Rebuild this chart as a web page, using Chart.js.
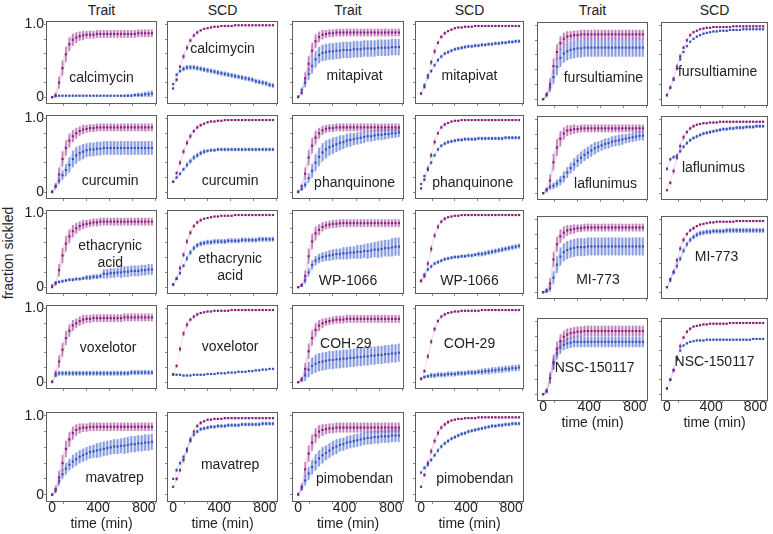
<!DOCTYPE html>
<html>
<head>
<meta charset="utf-8">
<title>fraction sickled</title>
<script src="https://cdn.jsdelivr.net/npm/chart.js@4.4.1/dist/chart.umd.min.js"></script>
<style>
  body { margin: 0; background: #fff; }
  #fig { position: relative; width: 773px; height: 534px; overflow: hidden;
         font-family: "Liberation Sans", Arial, Helvetica, sans-serif; color: #222; }
  #fig canvas { position: absolute; }
  .txt { position: absolute; font-size: 14px; line-height: 17px; white-space: nowrap;
         text-align: center; transform: translate(-50%, -50%); }
  .rot { transform: translate(-50%, -50%) rotate(-90deg); }
</style>
</head>
<body>
<div id="fig"></div>
<script>
// time points (min)
const times = [0,30,60,90,120,150,180,210,240,270,300,330,360,390,420,450,480,510,540,570,600,630,660,690,720,750,780,810,840,870];

const xTicks = [0,200,400,600,800];
const xTickLabels = ['0','','400','','800'];
const yTicks = [0,0.2,0.4,0.6,0.8,1.0];
const yTickLabels = ['0','','','','','1.0'];

const columnTitles = ['Trait','SCD','Trait','SCD','Trait','SCD'];
const drugs = ['calcimycin','curcumin','ethacrynic\nacid','voxelotor','mavatrep',
               'mitapivat','phanquinone','WP-1066','COH-29','pimobendan',
               'fursultiamine','laflunimus','MI-773','NSC-150117'];

// % sickled, one row per drug (same order as drugs)
// purple = untreated, blue = treated
const traitPurple = [
  [0,3,20,40,59,73,79,82,84,85,86,86,86,87,87,87,87,87,87,87,87,87,87,87,87,88,88,88,88,88],
  [0,8,24,45,60,70,76,80,83,85,86,87,87,88,88,88,88,88,88,88,88,88,88,88,88,88,88,88,88,88],
  [0,5,23,43,59,69,76,80,83,85,86,87,88,88,89,89,89,89,89,89,89,89,89,89,89,89,89,89,89,89],
  [0,12,28,44,60,70,77,80,83,85,86,86,87,87,87,87,87,87,87,87,87,88,88,88,88,88,88,88,88,88],
  [0,7,22,40,58,70,78,82,84,85,85,86,86,86,86,86,86,86,86,86,86,86,86,86,86,86,86,86,86,86],
  [0,6,26,46,64,77,83,86,87,88,88,89,89,89,89,89,89,89,89,89,89,89,89,89,89,89,89,89,89,89],
  [0,8,25,47,63,74,80,84,86,87,87,88,88,88,88,88,88,88,88,88,88,88,88,88,88,88,88,88,88,88],
  [0,3,15,42,62,73,78,82,84,85,86,86,87,87,87,87,87,87,87,87,87,87,87,87,87,87,87,87,87,87],
  [0,4,18,42,60,71,77,80,82,83,84,85,85,85,86,86,86,86,86,86,86,86,86,86,86,86,86,86,86,86],
  [0,10,32,52,66,75,80,82,83,84,84,85,85,85,85,85,85,85,85,85,85,85,85,85,85,85,85,85,85,85],
  [0,6,20,45,64,76,82,85,86,87,87,88,88,88,88,88,88,88,88,88,88,88,88,88,88,88,88,88,88,88],
  [0,4,17,42,62,74,81,85,86,87,87,88,88,88,88,88,88,88,88,88,88,88,88,88,88,88,88,88,88,88],
  [0,3,12,45,66,77,82,85,86,87,88,88,89,89,89,89,89,89,89,89,89,89,89,89,89,89,89,89,89,89],
  [0,4,22,44,62,73,79,82,84,85,86,86,87,87,87,87,87,87,87,87,87,87,87,87,87,87,87,87,87,87]
];
const traitPurpleErr = [
  [1,3,8,10,10,9,8,7,6,6,5,5,5,5,5,5,5,5,5,5,5,5,5,5,5,5,5,5,5,5],
  [1,4,9,10,10,9,8,7,6,6,5,5,5,5,5,5,5,5,5,5,5,5,5,5,5,5,5,5,5,5],
  [1,3,8,10,10,9,8,7,6,6,5,5,5,5,5,5,5,5,5,5,5,5,5,5,5,5,5,5,5,5],
  [1,4,8,9,9,8,7,6,6,6,5,5,5,5,5,5,5,5,5,5,5,5,5,5,5,5,5,5,5,5],
  [1,4,8,10,10,9,8,7,6,5,5,5,5,5,5,5,5,5,5,5,5,5,5,5,5,5,5,5,5,5],
  [1,3,8,10,10,9,7,6,5,5,5,5,5,5,5,5,5,5,5,5,5,5,5,5,5,5,5,5,5,5],
  [1,3,8,10,10,9,7,6,5,5,5,5,5,5,5,5,5,5,5,5,5,5,5,5,5,5,5,5,5,5],
  [1,2,7,10,10,9,7,6,5,5,5,5,5,5,5,5,5,5,5,5,5,5,5,5,5,5,5,5,5,5],
  [1,3,8,10,10,9,7,6,5,5,5,5,5,5,5,5,5,5,5,5,5,5,5,5,5,5,5,5,5,5],
  [1,4,9,10,10,9,8,7,6,6,6,6,6,6,6,6,6,6,6,6,6,6,6,6,6,6,6,6,6,6],
  [1,3,8,10,10,9,8,7,6,6,6,6,6,6,6,6,6,6,6,6,6,6,6,6,6,6,6,6,6,6],
  [1,3,8,11,11,10,8,7,6,6,5,5,5,5,5,5,5,5,5,5,5,5,5,5,5,5,5,5,5,5],
  [1,2,7,10,10,9,8,7,6,6,5,5,5,5,5,5,5,5,5,5,5,5,5,5,5,5,5,5,5,5],
  [1,3,8,10,10,9,8,8,7,7,7,7,7,7,7,7,7,7,7,7,7,7,7,7,7,7,7,7,7,7]
];
const traitBlue = [
  [0,1,2,2,2,2,2,2,2,2,2,2,2,2,2,2,2,2,2,2,2,2,2,2,3,3,3,4,4,5],
  [1,8,15,23,30,37,45,50,53,55,57,58,58,59,59,60,60,60,60,60,60,60,60,60,60,60,60,60,60,60],
  [2,6,7,8,9,10,10,11,11,12,13,13,14,14,15,18,18,19,19,20,20,21,21,22,22,22,23,23,24,24],
  [1,9,12,12,12,12,12,12,12,12,12,12,12,12,12,12,12,12,12,12,12,12,12,13,13,13,13,13,13,13],
  [0,5,17,26,33,38,42,45,48,50,52,54,55,56,57,58,59,60,61,61,62,62,63,64,64,65,65,66,66,67],
  [1,10,20,32,43,52,58,61,62,63,63,64,64,65,65,65,66,66,66,67,67,67,67,68,68,68,68,69,69,69],
  [1,4,10,19,29,40,48,54,58,61,63,65,67,68,70,71,72,73,74,75,76,76,77,78,78,79,79,80,80,81],
  [0,2,9,20,30,36,39,41,42,43,44,45,45,46,46,47,47,48,48,49,49,50,51,51,52,53,53,54,55,55],
  [0,3,9,17,22,25,27,28,29,30,30,31,31,32,32,33,33,34,34,35,35,36,36,37,37,38,38,39,39,40],
  [1,8,18,27,35,41,46,50,53,56,59,61,63,64,66,67,68,69,70,71,72,72,73,73,74,74,74,75,75,75],
  [0,6,16,30,44,56,62,65,67,68,69,69,70,70,70,70,70,70,70,70,70,70,70,70,70,70,70,70,70,70],
  [0,5,8,10,13,17,22,28,34,39,44,48,52,55,58,61,63,65,67,68,70,71,72,73,74,75,76,77,78,78],
  [0,1,5,20,38,49,55,58,60,61,62,62,62,63,63,63,63,63,63,63,63,63,63,63,63,63,63,63,63,63],
  [0,5,22,42,56,64,68,70,71,72,72,72,72,72,72,72,72,72,72,72,72,72,72,72,72,72,72,72,72,72]
];
const traitBlueErr = [
  [0,1,1,1,1,1,1,1,1,1,1,1,1,1,1,1,1,1,1,1,1,1,2,2,2,3,3,3,4,4],
  [1,2,4,6,8,10,11,11,10,10,9,9,9,9,9,9,9,9,9,9,9,9,9,9,9,9,9,9,9,9],
  [1,1,2,2,2,2,2,2,2,2,3,3,3,3,3,6,6,6,6,6,7,7,7,7,7,7,7,7,7,7],
  [1,2,3,3,3,3,3,3,3,3,3,3,3,3,3,3,3,3,3,3,3,3,3,3,3,3,3,3,3,3],
  [1,3,5,6,7,7,8,8,8,8,8,8,8,9,9,9,9,9,9,9,9,10,10,10,10,10,10,10,10,10],
  [1,3,6,8,10,11,11,11,11,11,11,11,11,11,11,11,11,11,11,11,11,11,11,11,11,11,11,11,11,11],
  [1,2,4,6,9,11,12,12,12,11,11,10,10,9,9,9,8,8,8,8,7,7,7,7,7,7,6,6,6,6],
  [1,2,4,5,6,6,6,6,6,7,7,7,7,8,8,8,8,9,9,9,10,10,10,11,11,11,11,12,12,12],
  [1,3,7,10,11,12,12,12,12,12,12,12,12,12,12,12,12,12,12,12,12,12,12,12,12,12,12,12,12,12],
  [1,3,6,8,9,10,10,10,9,9,9,9,8,8,8,8,8,8,8,8,8,8,8,8,8,8,8,8,8,8],
  [1,3,6,9,11,12,12,12,12,12,12,12,12,12,12,12,12,12,12,12,12,12,12,12,12,12,12,12,12,12],
  [1,2,3,4,5,6,7,7,7,8,8,8,8,8,8,8,7,7,7,7,7,7,7,7,6,6,6,6,6,6],
  [1,2,4,8,11,12,12,12,12,12,12,12,12,12,12,12,12,12,12,12,12,12,12,12,12,12,12,12,12,12],
  [1,3,6,8,8,8,7,7,7,7,7,7,7,7,7,7,7,7,7,7,7,7,7,7,7,7,7,7,7,7]
];
const scdPurple = [
  [12,24,42,56,68,78,85,89,92,94,95,96,97,97,98,98,98,98,99,99,99,99,99,99,99,99,99,99,99,99],
  [14,26,40,55,67,76,83,88,91,93,95,96,96,97,97,98,98,98,98,98,98,98,98,98,98,98,98,98,98,98],
  [3,12,26,44,62,74,83,88,91,93,94,95,96,96,97,97,97,97,98,98,98,98,98,98,98,98,98,98,98,98],
  [10,22,45,66,78,85,89,92,94,95,96,96,97,97,97,97,97,98,98,98,98,98,98,98,98,98,98,98,98,98],
  [10,20,31,44,56,70,80,87,91,93,95,95,96,96,96,97,97,97,97,97,97,97,97,97,97,97,97,97,97,97],
  [5,14,30,48,63,75,83,88,91,93,95,96,96,97,97,97,98,98,98,98,98,98,98,98,98,98,98,98,98,98],
  [5,17,32,50,68,80,88,92,94,96,97,97,98,98,98,98,98,98,98,98,98,98,98,98,98,98,98,98,98,98],
  [8,15,32,52,70,82,89,93,95,96,97,97,98,98,98,98,98,98,98,98,98,98,98,98,98,98,98,98,98,98],
  [4,15,35,55,72,83,89,92,94,95,96,96,97,97,97,97,97,97,98,98,98,98,98,98,98,98,98,98,98,98],
  [10,25,40,55,68,78,85,89,92,94,95,96,96,97,97,97,97,98,98,98,98,98,98,98,98,98,98,98,98,98],
  [6,16,28,44,58,70,80,87,91,93,95,96,97,97,98,98,98,98,98,98,99,99,99,99,99,99,99,99,99,99],
  [4,14,30,48,64,76,83,88,91,93,94,95,95,96,96,96,97,97,97,97,97,97,97,97,97,97,97,97,97,97],
  [7,18,28,44,60,72,80,85,88,91,93,94,95,96,96,97,97,97,97,97,97,98,98,98,98,98,98,98,98,98],
  [8,20,33,50,66,78,86,90,93,94,95,96,96,97,97,97,97,97,97,98,98,98,98,98,98,98,98,98,98,98]
];
const scdPurpleErr = [
  [1,2,2,3,3,2,2,2,1,1,1,1,1,1,1,1,1,1,1,1,1,1,1,1,1,1,1,1,1,1],
  [1,2,3,3,3,3,2,2,2,1,1,1,1,1,1,1,1,1,1,1,1,1,1,1,1,1,1,1,1,1],
  [1,2,3,3,3,3,2,2,2,1,1,1,1,1,1,1,1,1,1,1,1,1,1,1,1,1,1,1,1,1],
  [1,2,3,3,3,2,2,2,1,1,1,1,1,1,1,1,1,1,1,1,1,1,1,1,1,1,1,1,1,1],
  [1,2,2,3,3,3,2,2,2,1,1,1,1,1,1,1,1,1,1,1,1,1,1,1,1,1,1,1,1,1],
  [1,2,2,3,3,2,2,2,1,1,1,1,1,1,1,1,1,1,1,1,1,1,1,1,1,1,1,1,1,1],
  [1,2,3,3,3,2,2,2,1,1,1,1,1,1,1,1,1,1,1,1,1,1,1,1,1,1,1,1,1,1],
  [1,3,3,4,3,3,2,2,1,1,1,1,1,1,1,1,1,1,1,1,1,1,1,1,1,1,1,1,1,1],
  [1,2,3,3,3,2,2,2,1,1,1,1,1,1,1,1,1,1,1,1,1,1,1,1,1,1,1,1,1,1],
  [1,2,3,3,3,3,2,2,2,1,1,1,1,1,1,1,1,1,1,1,1,1,1,1,1,1,1,1,1,1],
  [1,2,2,3,3,2,2,2,1,1,1,1,1,1,1,1,1,1,1,1,1,1,1,1,1,1,1,1,1,1],
  [1,2,3,3,3,3,2,2,2,1,1,1,1,1,1,1,1,1,1,1,1,1,1,1,1,1,1,1,1,1],
  [1,2,3,3,3,3,2,2,2,1,1,1,1,1,1,1,1,1,1,1,1,1,1,1,1,1,1,1,1,1],
  [1,2,3,3,3,2,2,2,1,1,1,1,1,1,1,1,1,1,1,1,1,1,1,1,1,1,1,1,1,1]
];
const scdBlue = [
  [18,31,36,39,41,41,41,40,39,38,37,36,35,34,33,32,31,30,29,28,27,26,25,24,22,21,20,19,17,16],
  [14,20,25,31,37,42,47,50,53,55,56,57,57,58,58,58,58,58,58,58,58,58,58,58,58,58,58,58,58,58],
  [4,11,19,29,39,47,53,57,59,60,61,61,62,62,62,62,63,63,63,63,64,64,64,64,64,65,65,65,65,65],
  [11,10,10,9,9,9,10,10,10,10,11,11,11,12,12,12,13,13,13,14,14,14,15,15,16,16,17,17,18,18],
  [20,31,40,48,58,68,76,80,83,84,85,86,86,87,87,87,88,88,88,88,89,89,89,89,89,89,90,90,90,90],
  [5,17,27,36,44,51,56,60,62,64,66,67,68,69,70,70,71,71,72,72,73,73,74,74,75,75,76,76,77,77],
  [11,22,30,40,50,58,63,66,68,69,70,71,71,72,72,72,72,73,73,73,73,73,73,73,73,74,74,74,74,74],
  [9,17,24,28,32,34,36,38,39,40,41,41,42,42,43,43,44,45,45,46,47,48,49,50,51,52,53,54,55,56],
  [5,7,8,9,9,10,10,10,11,11,11,12,12,12,13,13,13,14,14,15,15,16,16,17,17,18,18,19,19,20],
  [28,34,38,44,50,56,61,65,68,71,73,75,77,78,80,81,82,83,84,85,86,87,87,88,88,89,89,90,90,90],
  [5,15,26,41,54,64,72,78,82,85,87,89,90,91,92,92,93,93,93,94,94,94,94,95,95,95,95,95,95,95],
  [33,46,49,51,57,63,68,72,75,77,79,81,82,83,84,85,86,87,87,88,88,89,89,89,90,90,90,91,91,91],
  [7,16,27,36,46,57,66,72,76,79,81,82,83,83,84,84,84,84,85,85,85,85,85,85,85,85,85,85,85,85],
  [8,20,33,47,60,67,70,72,73,74,74,74,75,75,75,75,75,75,75,75,75,75,75,75,75,75,76,76,76,76]
];
const scdBlueErr = [
  [1,2,2,3,3,3,3,3,3,3,3,3,3,3,3,3,3,3,3,3,3,3,3,3,3,3,3,3,3,3],
  [1,2,2,2,3,3,3,3,3,3,2,2,2,2,2,2,2,2,2,2,2,2,2,2,2,2,2,2,2,2],
  [1,1,2,2,3,3,3,3,3,3,3,3,3,3,3,3,3,3,3,3,3,3,3,3,3,3,3,3,3,3],
  [1,1,1,1,1,1,1,1,1,1,1,1,1,1,1,1,1,1,1,1,1,1,1,1,1,1,1,1,1,1],
  [1,2,2,2,2,2,2,2,2,2,2,2,2,2,2,2,2,2,2,2,2,2,2,2,2,2,2,2,2,2],
  [1,1,2,2,2,2,2,2,2,2,2,2,2,2,2,2,2,2,2,2,2,2,2,2,2,2,2,2,2,2],
  [1,1,1,2,2,2,2,2,2,2,2,2,2,2,2,2,2,2,2,2,2,2,2,2,2,2,2,2,2,2],
  [1,2,2,2,2,2,2,2,2,2,2,2,2,2,2,2,2,3,3,3,3,3,3,3,3,3,3,3,3,3],
  [1,2,2,3,3,3,3,3,3,3,3,3,3,3,3,3,3,3,4,4,4,4,4,4,4,4,4,4,4,4],
  [1,2,2,2,2,2,2,2,2,2,2,2,2,2,2,2,2,2,2,2,2,2,2,2,2,2,2,2,2,2],
  [1,1,1,1,1,1,1,1,1,1,1,1,1,1,1,1,1,1,1,1,1,1,1,1,1,1,1,1,1,1],
  [2,2,2,2,2,2,2,2,2,2,2,2,2,2,2,2,2,2,2,2,2,2,2,2,2,2,2,2,2,2],
  [1,2,2,3,3,3,3,3,3,3,3,3,3,3,3,3,3,3,3,3,3,3,3,3,3,3,3,3,3,3],
  [1,1,1,1,1,1,1,1,1,1,1,1,1,1,1,1,1,1,1,1,1,1,1,1,1,1,1,1,1,1]
];

// layout of the figure (px)
const colLeft = [47, 168, 293, 416, 538, 662];
const colWidth = [109, 109, 110, 107, 109, 105];
const rowBoxA = [[22,103],[116,198],[211,293],[306,388],[413,501]];
const rowBoxB = [[23,105],[117,199],[217,298],[319,400]];
// drug label centre, as fraction of plot box
const traitLabelPos = [[0.50,0.68],[0.58,0.78],[0.58,0.52],[0.56,0.50],[0.62,0.73],
                       [0.56,0.65],[0.56,0.80],[0.50,0.84],[0.48,0.45],[0.56,0.74],
                       [0.60,0.66],[0.62,0.80],[0.55,0.77],[0.52,0.59]];
const scdLabelPos = [[0.50,0.32],[0.57,0.78],[0.57,0.68],[0.57,0.49],[0.57,0.58],
                     [0.50,0.65],[0.53,0.80],[0.50,0.84],[0.50,0.45],[0.55,0.74],
                     [0.53,0.58],[0.49,0.61],[0.52,0.48],[0.50,0.52]];

const FONT = '"Liberation Sans", Arial, Helvetica, sans-serif';
const PURPLE = '#86207c', PURPLE_BAR = 'rgba(150,50,140,0.55)', PURPLE_BAND = 'rgba(205,140,195,0.3)';
const BLUE = '#3553b8', BLUE_BAR = 'rgba(60,90,200,0.55)', BLUE_BAND = 'rgba(140,160,225,0.3)';

const fig = document.getElementById('fig');

function addText(str, x, y, cls) {
  const d = document.createElement('div');
  d.className = 'txt' + (cls ? ' ' + cls : '');
  d.style.left = x + 'px';
  d.style.top = y + 'px';
  d.innerHTML = str.split('\n').join('<br>');
  fig.appendChild(d);
}

const framePlugin = {
  id: 'frame',
  afterDatasetsDraw(chart) {
    const a = chart.chartArea, ctx = chart.ctx;
    ctx.save();
    ctx.strokeStyle = '#5e5e5e';
    ctx.lineWidth = 1;
    ctx.strokeRect(a.left - 0.5, a.top - 0.5, a.right - a.left + 1, a.bottom - a.top + 1);
    ctx.restore();
  }
};

const pts = arr => times.map((t, k) => ({x: t, y: arr[k] / 100}));
const edge = (arr, err, s) => times.map((t, k) => ({x: t, y: (arr[k] + s * err[k]) / 100}));
const bars = (arr, err) => times.map((t, k) => ({x: t, y: [(arr[k] - err[k]) / 100, (arr[k] + err[k]) / 100]}));

function makePanel(col, box, bottomRow, purple, purpleErr, blue, blueErr, label, pos) {
  const w = colWidth[col] + 30 + 16, h = box[1] - box[0] + 10 + 36;
  const canvas = document.createElement('canvas');
  canvas.width = w; canvas.height = h;
  canvas.style.left = (colLeft[col] - 30) + 'px';
  canvas.style.top = (box[0] - 10) + 'px';
  fig.appendChild(canvas);

  const firstCol = col === 0;
  new Chart(canvas, {
    type: 'scatter',
    data: {
      datasets: [
        {type: 'line', data: edge(blue, blueErr, -1), borderWidth: 0, pointRadius: 0, fill: false, order: 9},
        {type: 'line', data: edge(blue, blueErr, 1), borderWidth: 0, pointRadius: 0, fill: '-1', backgroundColor: BLUE_BAND, order: 8},
        {type: 'line', data: edge(purple, purpleErr, -1), borderWidth: 0, pointRadius: 0, fill: false, order: 7},
        {type: 'line', data: edge(purple, purpleErr, 1), borderWidth: 0, pointRadius: 0, fill: '-1', backgroundColor: PURPLE_BAND, order: 6},
        {type: 'bar', data: bars(blue, blueErr), backgroundColor: BLUE_BAR, barThickness: 1, grouped: false, order: 5},
        {type: 'bar', data: bars(purple, purpleErr), backgroundColor: PURPLE_BAR, barThickness: 1, grouped: false, order: 4},
        {type: 'scatter', data: pts(blue), pointStyle: 'rect', pointRadius: 1.5, backgroundColor: BLUE, borderWidth: 0, order: 3},
        {type: 'scatter', data: pts(purple), pointStyle: 'rect', pointRadius: 1.5, backgroundColor: PURPLE, borderWidth: 0, order: 2}
      ]
    },
    options: {
      responsive: false,
      animation: false,
      devicePixelRatio: 1,
      events: [],
      layout: {padding: {top: 10, right: 16, bottom: 0, left: 0}},
      plugins: {legend: {display: false}, tooltip: {enabled: false}},
      scales: {
        x: {
          type: 'linear', min: -45, max: 905, offset: false,
          afterBuildTicks: a => { a.ticks = xTicks.map(v => ({value: v})); },
          afterFit: a => { a.height = 36; },
          ticks: {autoSkip: false, maxRotation: 0, padding: -3, color: '#222',
                  font: {family: FONT, size: 14, lineHeight: 1},
                  callback: (v, i) => bottomRow ? xTickLabels[i] : ''},
          grid: {drawOnChartArea: false, tickLength: 3, color: '#8a8a8a'},
          border: {display: false},
          title: {display: bottomRow, text: 'time (min)', color: '#222',
                  font: {family: FONT, size: 14}, padding: {top: 0, bottom: 4}}
        },
        y: {
          min: -0.08, max: 1.035,
          afterBuildTicks: a => { a.ticks = yTicks.map(v => ({value: v})); },
          afterFit: a => { a.width = 30; },
          ticks: {autoSkip: false, padding: 0, color: '#222',
                  font: {family: FONT, size: 14, lineHeight: 1},
                  callback: (v, i) => firstCol ? yTickLabels[i] : ''},
          grid: {drawOnChartArea: false, tickLength: 3, color: '#8a8a8a'},
          border: {display: false}
        }
      }
    },
    plugins: [framePlugin]
  });

  addText(label, colLeft[col] + pos[0] * colWidth[col], box[0] + pos[1] * (box[1] - box[0]));
}

columnTitles.forEach((s, c) => addText(s, colLeft[c] + colWidth[c] / 2, 10));
addText('fraction sickled', 8, 253, 'rot');

drugs.forEach((name, d) => {
  const group = Math.floor(d / 5), row = d % 5;
  const box = (group < 2 ? rowBoxA : rowBoxB)[row];
  const bottomRow = group < 2 ? row === 4 : row === 3;
  makePanel(group * 2, box, bottomRow, traitPurple[d], traitPurpleErr[d], traitBlue[d], traitBlueErr[d], name, traitLabelPos[d]);
  makePanel(group * 2 + 1, box, bottomRow, scdPurple[d], scdPurpleErr[d], scdBlue[d], scdBlueErr[d], name, scdLabelPos[d]);
});
</script>
</body>
</html>
